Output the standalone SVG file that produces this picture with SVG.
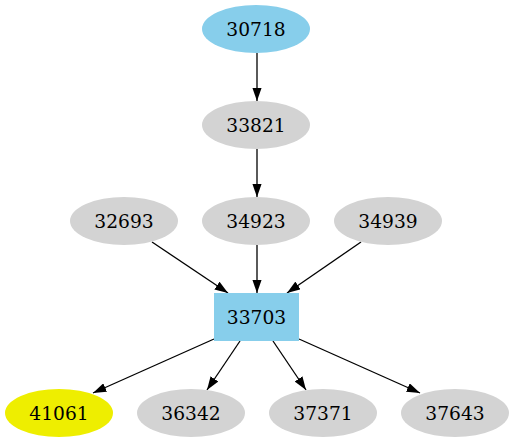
<svg xmlns="http://www.w3.org/2000/svg" width="514" height="443" viewBox="0 0 514 443">
<style>
.t{font-family:"DejaVu Serif",serif;font-size:18.67px;text-anchor:middle;fill:#000}
.g{fill:#d3d3d3}
.b{fill:#87ceeb}
.y{fill:#eeee00}
.e{stroke:#000;stroke-width:1.3;fill:none;marker-end:url(#a)}
</style>
<defs>
<marker id="a" viewBox="0 0 13.33 9.33" refX="13.33" refY="4.67" markerWidth="13.33" markerHeight="9.33" markerUnits="userSpaceOnUse" orient="auto">
<path d="M0,0 L13.33,4.67 L0,9.33 z" fill="#000"/>
</marker>
</defs>
<rect width="514" height="443" fill="#fff"/>
<g id="edges">
<line class="e" x1="257" y1="53" x2="257" y2="101"/>
<line class="e" x1="257" y1="149" x2="257" y2="197"/>
<line class="e" x1="257" y1="245" x2="257" y2="293"/>
<line class="e" x1="152" y1="242" x2="228" y2="293"/>
<line class="e" x1="361" y1="242" x2="287" y2="293"/>
<line class="e" x1="214" y1="339" x2="93" y2="393"/>
<line class="e" x1="240" y1="341" x2="207" y2="390"/>
<line class="e" x1="273" y1="341" x2="306" y2="390"/>
<line class="e" x1="299" y1="339" x2="420" y2="393"/>
</g>
<g id="n30718"><ellipse class="b" cx="256" cy="29" rx="54" ry="24"/><text class="t" x="256" y="35.5">30718</text></g>
<g id="n33821"><ellipse class="g" cx="256" cy="125" rx="54" ry="24"/><text class="t" x="256" y="131.5">33821</text></g>
<g id="n32693"><ellipse class="g" cx="124" cy="221" rx="54" ry="24"/><text class="t" x="124" y="227.5">32693</text></g>
<g id="n34923"><ellipse class="g" cx="256" cy="221" rx="54" ry="24"/><text class="t" x="256" y="227.5">34923</text></g>
<g id="n34939"><ellipse class="g" cx="388" cy="221" rx="54" ry="24"/><text class="t" x="388" y="227.5">34939</text></g>
<g id="n33703"><rect class="b" x="214" y="293" width="85" height="48"/><text class="t" x="256.5" y="323.5">33703</text></g>
<g id="n41061"><ellipse class="y" cx="59" cy="413" rx="54" ry="24"/><text class="t" x="59" y="419.5">41061</text></g>
<g id="n36342"><ellipse class="g" cx="191" cy="413" rx="54" ry="24"/><text class="t" x="191" y="419.5">36342</text></g>
<g id="n37371"><ellipse class="g" cx="323" cy="413" rx="54" ry="24"/><text class="t" x="323" y="419.5">37371</text></g>
<g id="n37643"><ellipse class="g" cx="455" cy="413" rx="54" ry="24"/><text class="t" x="455" y="419.5">37643</text></g>
</svg>
